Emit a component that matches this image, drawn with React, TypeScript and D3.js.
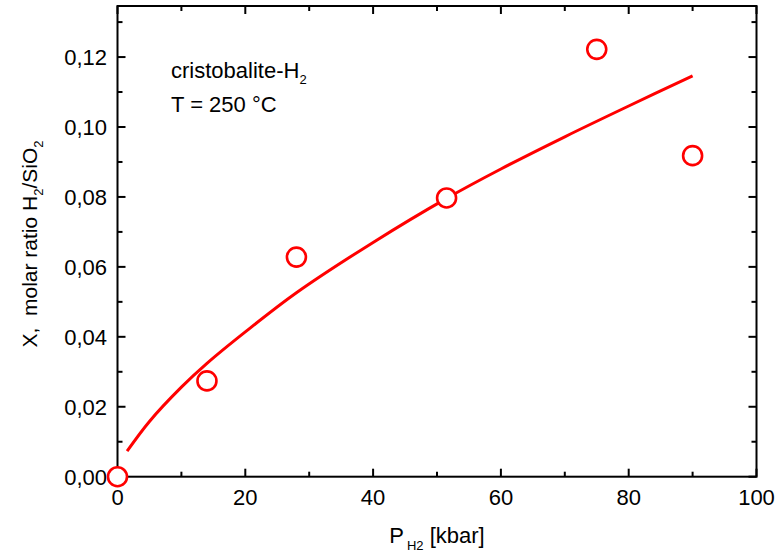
import React from "react";
import * as d3 from "d3";

const pointsX = [0, 14, 28, 51.5, 75, 90];
const pointsY = [0, 0.0274, 0.0628, 0.0797, 0.1222, 0.0918];

const fitX = [1.5, 5, 10, 14, 20, 28, 40, 51.5, 60, 70, 80, 90];
const fitY = [0.0073, 0.0158, 0.0256, 0.0324, 0.0414, 0.0526, 0.0670, 0.0796, 0.0880, 0.0972, 0.1060, 0.1146];

const xMajorTicks = [0, 20, 40, 60, 80, 100];
const xTickLabels = ["0", "20", "40", "60", "80", "100"];
const xMinorTicks = [10, 30, 50, 70, 90];
const yMajorTicks = [0, 0.02, 0.04, 0.06, 0.08, 0.1, 0.12];
const yTickLabels = ["0,00", "0,02", "0,04", "0,06", "0,08", "0,10", "0,12"];
const yMinorTicks = [0.01, 0.03, 0.05, 0.07, 0.09, 0.11, 0.13];

const W = 784;
const H = 553;
const left = 117.5;
const right = 756.5;
const top = 6;
const bottom = 476.7;
const FONT = "'Liberation Sans', Arial, sans-serif";
const RED = "#ff0000";

export default function App() {
  const x = d3.scaleLinear().domain([0, 100]).range([left, right]);
  const y = d3.scaleLinear().domain([0, 0.1346]).range([bottom, top]);
  const line = d3
    .line<number>()
    .x((_, i) => x(fitX[i]))
    .y((d) => y(d))
    .curve(d3.curveCatmullRom.alpha(0.5));

  const majLen = 8;
  const minLen = 5;

  return (
    <svg width={W} height={H} style={{ position: "absolute", left: 0, top: 0, background: "#fff" }}>
      <rect x={0} y={0} width={W} height={H} fill="#fff" />
      {/* ticks */}
      <g stroke="#000" strokeWidth={2}>
        {xMajorTicks.map((t) => (
          <g key={"xm" + t}>
            <line x1={x(t)} x2={x(t)} y1={bottom} y2={bottom - majLen} />
            <line x1={x(t)} x2={x(t)} y1={top} y2={top + majLen} />
          </g>
        ))}
        {xMinorTicks.map((t) => (
          <g key={"xn" + t}>
            <line x1={x(t)} x2={x(t)} y1={bottom} y2={bottom - minLen} />
            <line x1={x(t)} x2={x(t)} y1={top} y2={top + minLen} />
          </g>
        ))}
        {yMajorTicks.map((t) => (
          <g key={"ym" + t}>
            <line x1={left} x2={left + majLen} y1={y(t)} y2={y(t)} />
            <line x1={right} x2={right - majLen} y1={y(t)} y2={y(t)} />
          </g>
        ))}
        {yMinorTicks.map((t) => (
          <g key={"yn" + t}>
            <line x1={left} x2={left + minLen} y1={y(t)} y2={y(t)} />
            <line x1={right} x2={right - minLen} y1={y(t)} y2={y(t)} />
          </g>
        ))}
      </g>
      <rect x={left} y={top} width={right - left} height={bottom - top} fill="none" stroke="#000" strokeWidth={2} />

      {/* tick labels */}
      <g fontFamily={FONT} fontSize={22} fill="#000">
        {xMajorTicks.map((t, i) => (
          <text key={"xl" + t} x={x(t)} y={505} textAnchor="middle">
            {xTickLabels[i]}
          </text>
        ))}
        {yMajorTicks.map((t, i) => (
          <text key={"yl" + t} x={107} y={y(t) + 8} textAnchor="end">
            {yTickLabels[i]}
          </text>
        ))}
      </g>

      {/* fit curve */}
      <path d={line(fitY) || ""} fill="none" stroke={RED} strokeWidth={3} />

      {/* data points */}
      {pointsX.map((px, i) => (
        <circle key={"p" + i} cx={x(px)} cy={y(pointsY[i])} r={9.5} fill="#fff" stroke={RED} strokeWidth={2.6} />
      ))}

      {/* annotations */}
      <g fontFamily={FONT} fontSize={22} fill="#000">
        <text x={171} y={78}>
          cristobalite-H
          <tspan fontSize={13} dy={6}>2</tspan>
        </text>
        <text x={171} y={112}>T = 250 °C</text>
      </g>

      {/* axis titles */}
      <text x={437} y={543} fontFamily={FONT} fontSize={22} textAnchor="middle" style={{ whiteSpace: "pre" }}>
        P
        <tspan fontSize={13} dy={7} dx={3}>H2</tspan>
        <tspan dy={-7}> [kbar]</tspan>
      </text>
      <text
        transform={`translate(37,244) rotate(-90)`}
        fontFamily={FONT}
        fontSize={21}
        textAnchor="middle"
        style={{ whiteSpace: "pre" }}
      >
        {"X,  molar ratio H"}
        <tspan fontSize={13} dy={6}>2</tspan>
        <tspan dy={-6}>/SiO</tspan>
        <tspan fontSize={13} dy={6}>2</tspan>
      </text>
    </svg>
  );
}
